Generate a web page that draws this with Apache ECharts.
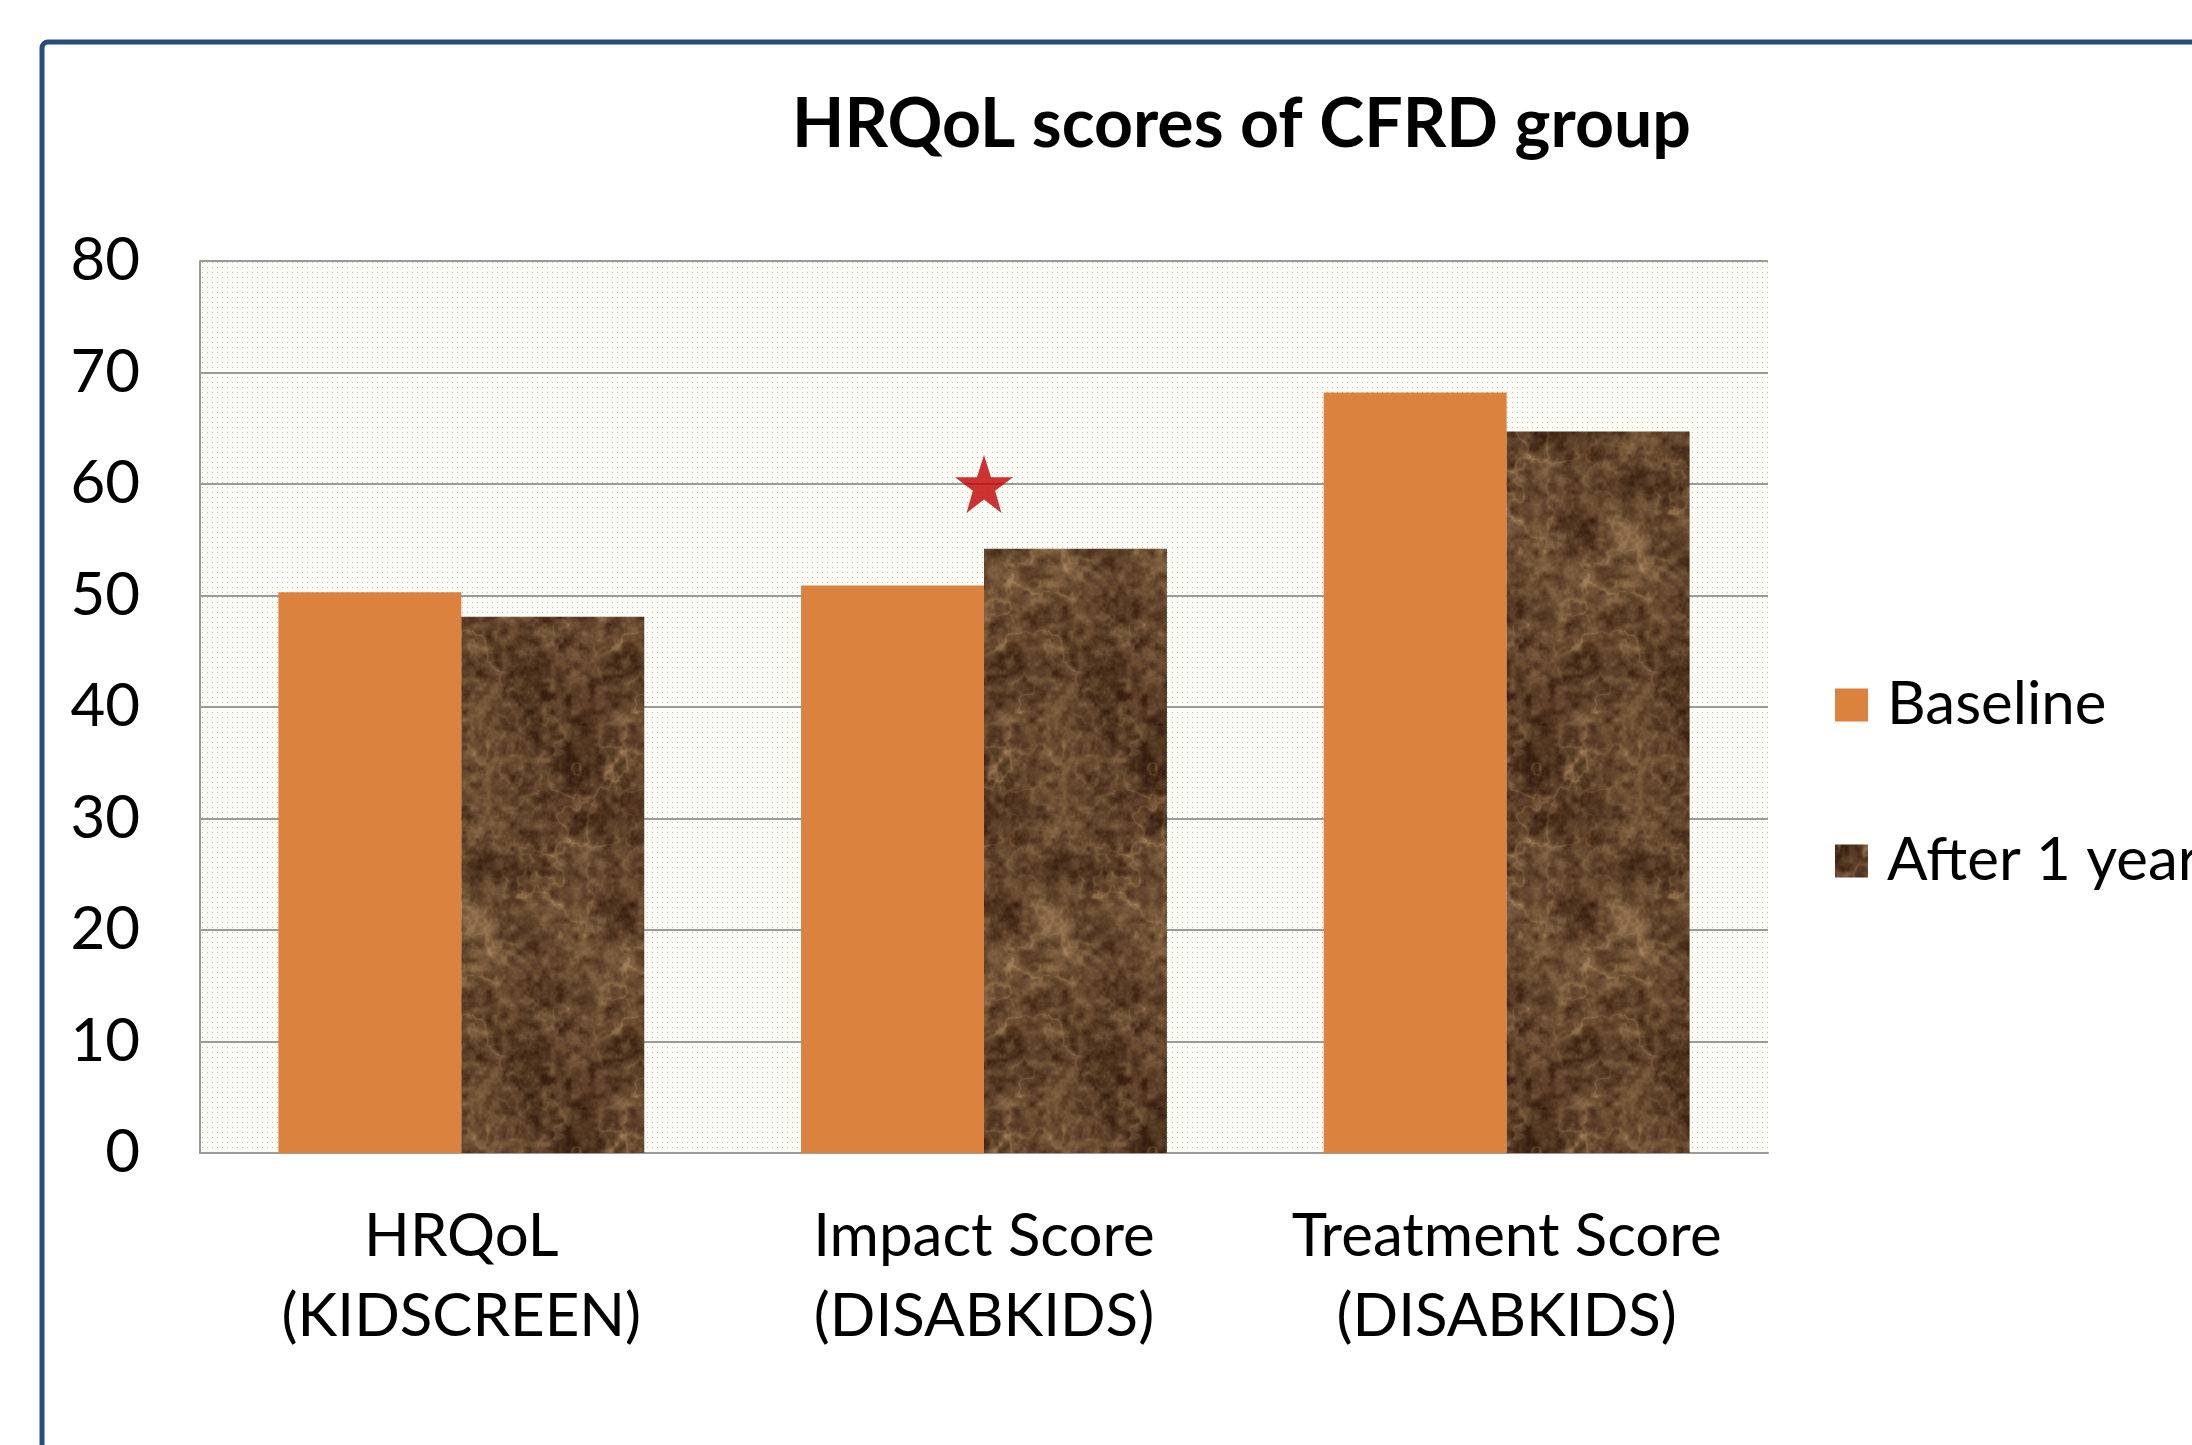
<!DOCTYPE html>
<html>
<head>
<meta charset="utf-8">
<title>HRQoL scores of CFRD group</title>
<script src="https://cdn.jsdelivr.net/npm/echarts@6/dist/echarts.min.js"></script>
<style>
  html, body { margin: 0; padding: 0; background: #fff; }
  #chart { width: 2192px; height: 1445px; }
</style>
</head>
<body>
<div id="chart"></div>
<script>
// data
const categories = ["HRQoL\n(KIDSCREEN)", "Impact Score\n(DISABKIDS)", "Treatment Score\n(DISABKIDS)"];
const baseline = [50.3, 50.9, 68.2];
const afterOneYear = [48.1, 54.2, 64.7];
const seriesNames = ["Baseline", "After 1 year"];
const yMin = 0, yMax = 80, yStep = 10;
// significance star: [category index, value]
const starMarks = [[1, 60]];

const FONT = "Lato, 'Noto Sans', sans-serif";

// dotted plot background
const makeDots = () => {
  const c = document.createElement("canvas");
  c.width = 5; c.height = 5;
  const ctx = c.getContext("2d");
  ctx.fillStyle = "#fbfcf6";
  ctx.fillRect(0, 0, 5, 5);
  ctx.fillStyle = "#bcbfb5";
  ctx.fillRect(2, 2, 1, 1);
  return c;
};

// brown marble texture for the "after" bars (deterministic noise, style only)
const makeMarble = (w, h) => {
  const c = document.createElement("canvas");
  c.width = w; c.height = h;
  const ctx = c.getContext("2d");
  const img = ctx.createImageData(w, h);
  const hash = (x, y, s) => {
    let n = Math.imul(x, 374761393) ^ Math.imul(y, 668265263) ^ Math.imul(s, 1442695041);
    n = Math.imul(n ^ (n >>> 13), 1274126177);
    return ((n ^ (n >>> 16)) >>> 0) / 4294967295;
  };
  const sm = t => t * t * (3 - 2 * t);
  const noise = (x, y, px, py, s) => {
    const xi = Math.floor(x), yi = Math.floor(y);
    const u = sm(x - xi), v = sm(y - yi);
    const x0 = ((xi % px) + px) % px, x1 = (x0 + 1) % px;
    const y0 = ((yi % py) + py) % py, y1 = (y0 + 1) % py;
    const a = hash(x0, y0, s), b = hash(x1, y0, s), cc = hash(x0, y1, s), d = hash(x1, y1, s);
    return a + (b - a) * u + (cc - a) * v + (a - b - cc + d) * u * v;
  };
  const fbm = (x, y, bx, by, s, oct) => {
    let sum = 0, amp = 0.5, f = 1, norm = 0;
    for (let o = 0; o < oct; o++) {
      sum += amp * noise(x * f, y * f, bx * f, by * f, s + o);
      norm += amp; amp *= 0.55; f *= 2;
    }
    return sum / norm;
  };
  const bx = 4, by = 8;
  for (let y = 0; y < h; y++) {
    for (let x = 0; x < w; x++) {
      const nx = x / w * bx, ny = y / h * by;
      const cloud = fbm(nx, ny, bx, by, 1, 5);
      const speck = fbm(nx * 6, ny * 6, bx * 6, by * 6, 20, 3);
      const r = fbm(nx * 1.5, ny * 1.5, bx * 1.5, by * 1.5, 40, 4);
      const vein = Math.pow(1 - Math.abs(2 * r - 1), 10);
      const mask = fbm(nx, ny, bx, by, 60, 3);
      let t = 0.3 + 0.6 * (cloud - 0.5) + 0.6 * (speck - 0.5) + 0.45 * vein * mask;
      t = Math.max(0, Math.min(1, t));
      const i = (y * w + x) * 4;
      img.data[i] = 55 + 130 * t;
      img.data[i + 1] = 30 + 118 * t;
      img.data[i + 2] = 15 + 88 * t;
      img.data[i + 3] = 255;
    }
  }
  ctx.putImageData(img, 0, 0);
  return c;
};

const dotPattern = { image: makeDots(), repeat: "repeat" };
const marblePattern = { image: makeMarble(192, 384), repeat: "repeat" };

const chart = echarts.init(document.getElementById("chart"), null, { renderer: "canvas" });

const option = {
  backgroundColor: "#ffffff",
  animation: false,
  title: {
    text: "HRQoL scores of CFRD group",
    left: 792,
    top: 91,
    padding: 0,
    textStyle: { fontFamily: FONT, fontWeight: "bold", fontSize: 68, color: "#000" }
  },
  legend: {
    data: seriesNames,
    orient: "vertical",
    left: 1830,
    top: 665,
    itemWidth: 33,
    itemHeight: 33,
    itemGap: 86,
    icon: "rect",
    textStyle: { fontFamily: FONT, fontSize: 60, lineHeight: 70, color: "#000", padding: [0, 0, 0, 14] }
  },
  grid: {
    left: 200,
    right: 424,
    top: 261,
    bottom: 292,
    show: true,
    backgroundColor: dotPattern,
    borderWidth: 0,
    outerBoundsMode: "none"
  },
  xAxis: {
    type: "category",
    data: categories,
    axisLine: { lineStyle: { color: "#9a9a9a", width: 2 } },
    axisTick: { show: false },
    axisLabel: { fontFamily: FONT, fontSize: 60, lineHeight: 80, color: "#000", margin: 44, interval: 0 }
  },
  yAxis: {
    type: "value",
    min: yMin,
    max: yMax,
    interval: yStep,
    axisLine: { show: true, lineStyle: { color: "#9a9a9a", width: 2 } },
    axisTick: { show: false },
    splitLine: { lineStyle: { color: "#9a9a9a", width: 2 } },
    axisLabel: { fontFamily: FONT, fontSize: 60, color: "#000", margin: 60 }
  },
  graphic: [
    {
      type: "rect",
      shape: { x: 42, y: 42, width: 2400, height: 1600, r: 6 },
      style: { fill: "none", stroke: "#264d7e", lineWidth: 5 },
      silent: true,
      z: 100
    }
  ],
  series: [
    {
      name: seriesNames[0],
      type: "bar",
      data: baseline,
      barGap: "0%",
      barCategoryGap: "30%",
      itemStyle: { color: "#da823e" }
    },
    {
      name: seriesNames[1],
      type: "bar",
      data: afterOneYear,
      barGap: "0%",
      barCategoryGap: "30%",
      itemStyle: { color: marblePattern }
    },
    {
      name: "significance",
      type: "scatter",
      data: starMarks,
      symbol: "path://M50,0 L61.8,35.1 L98.9,35.1 L68.8,56.7 L79.4,91.9 L50,70.6 L20.6,91.9 L31.2,56.7 L1.1,35.1 L38.2,35.1 Z",
      symbolSize: 58,
      itemStyle: { color: "#c00000" },
      z: 5
    }
  ]
};

chart.setOption(option);
</script>
</body>
</html>
